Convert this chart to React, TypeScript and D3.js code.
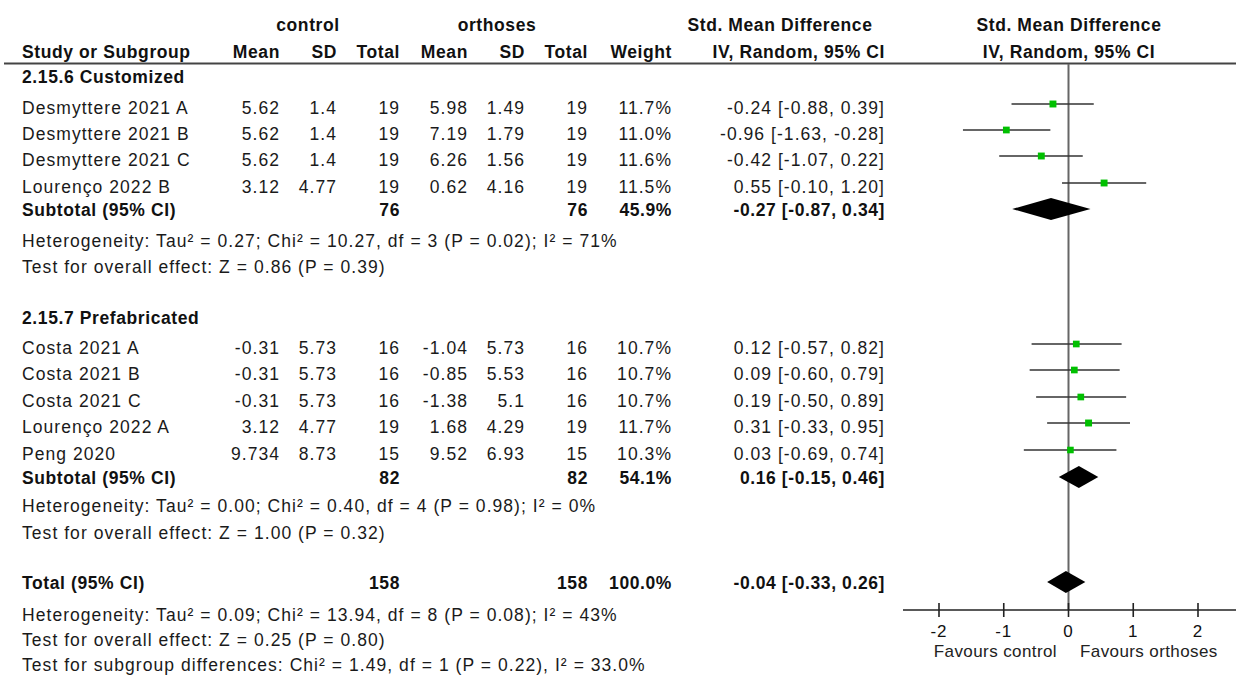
import React from 'react'
import * as d3 from 'd3'

const studyNames = ['Desmyttere 2021 A', 'Desmyttere 2021 B', 'Desmyttere 2021 C', 'Lourenço 2022 B',
  'Costa 2021 A', 'Costa 2021 B', 'Costa 2021 C', 'Lourenço 2022 A', 'Peng 2020']
const ctrlMean = ['5.62', '5.62', '5.62', '3.12', '-0.31', '-0.31', '-0.31', '3.12', '9.734']
const ctrlSD = ['1.4', '1.4', '1.4', '4.77', '5.73', '5.73', '5.73', '4.77', '8.73']
const ctrlN = [19, 19, 19, 19, 16, 16, 16, 19, 15]
const orthMean = ['5.98', '7.19', '6.26', '0.62', '-1.04', '-0.85', '-1.38', '1.68', '9.52']
const orthSD = ['1.49', '1.79', '1.56', '4.16', '5.73', '5.53', '5.1', '4.29', '6.93']
const orthN = [19, 19, 19, 19, 16, 16, 16, 19, 15]
const weights = [11.7, 11.0, 11.6, 11.5, 10.7, 10.7, 10.7, 11.7, 10.3]
const smd = [-0.24, -0.96, -0.42, 0.55, 0.12, 0.09, 0.19, 0.31, 0.03]
const lo = [-0.88, -1.63, -1.07, -0.10, -0.57, -0.60, -0.50, -0.33, -0.69]
const hi = [0.39, -0.28, 0.22, 1.20, 0.82, 0.79, 0.89, 0.95, 0.74]
const studyBaselines = [114, 140, 166, 193, 354, 380, 407, 433, 460]

const pooled = [
  { label: 'Subtotal (95% CI)', n1: 76, n2: 76, w: '45.9%', est: -0.27, lo: -0.87, hi: 0.34, y: 216 },
  { label: 'Subtotal (95% CI)', n1: 82, n2: 82, w: '54.1%', est: 0.16, lo: -0.15, hi: 0.46, y: 484 },
  { label: 'Total (95% CI)', n1: 158, n2: 158, w: '100.0%', est: -0.04, lo: -0.33, hi: 0.26, y: 589 },
]
const groupHeads = [{ t: '2.15.6 Customized', y: 83 }, { t: '2.15.7 Prefabricated', y: 324 }]
const notes = [
  { t: 'Heterogeneity: Tau² = 0.27; Chi² = 10.27, df = 3 (P = 0.02); I² = 71%', y: 247 },
  { t: 'Test for overall effect: Z = 0.86 (P = 0.39)', y: 273 },
  { t: 'Heterogeneity: Tau² = 0.00; Chi² = 0.40, df = 4 (P = 0.98); I² = 0%', y: 512 },
  { t: 'Test for overall effect: Z = 1.00 (P = 0.32)', y: 539 },
  { t: 'Heterogeneity: Tau² = 0.09; Chi² = 13.94, df = 8 (P = 0.08); I² = 43%', y: 621 },
  { t: 'Test for overall effect: Z = 0.25 (P = 0.80)', y: 646 },
  { t: 'Test for subgroup differences: Chi² = 1.49, df = 1 (P = 0.22), I² = 33.0%', y: 671 },
]
const ticks = [-2, -1, 0, 1, 2]

const fmt = (v: number) => v.toFixed(2)
const ciText = (e: number, l: number, h: number) => `${fmt(e)} [${fmt(l)}, ${fmt(h)}]`

export default function App() {
  const x = d3.scaleLinear().domain([-2, 2]).range([939, 1198])
  const axisY = 610
  const font = { fontFamily: 'Liberation Sans, Arial, sans-serif', fontSize: 17.5, letterSpacing: 1.05 }
  const bold = { ...font, fontWeight: 700, letterSpacing: 0.6, fill: '#111' }
  const col = { cMean: 280, cSD: 337, cN: 400, oMean: 468, oSD: 525, oN: 588, w: 672, ci: 885 }
  const diamond = (p: typeof pooled[0]) => {
    const yc = p.y - 7
    return `M${x(p.lo)},${yc} L${x(p.est)},${yc - 11} L${x(p.hi)},${yc} L${x(p.est)},${yc + 11} Z`
  }
  return (
    <svg width={1241} height={675} style={{ position: 'absolute', left: 0, top: 0, background: '#fff' }}>
      <g style={font} fill="#1a1a1a">
        <text x={308} y={31} textAnchor="middle" style={bold}>control</text>
        <text x={497} y={31} textAnchor="middle" style={bold}>orthoses</text>
        <text x={780} y={31} textAnchor="middle" style={bold}>Std. Mean Difference</text>
        <text x={1069} y={31} textAnchor="middle" style={bold}>Std. Mean Difference</text>
        <text x={22} y={58} style={bold}>Study or Subgroup</text>
        {[['Mean', col.cMean], ['SD', col.cSD], ['Total', col.cN], ['Mean', col.oMean], ['SD', col.oSD], ['Total', col.oN], ['Weight', col.w], ['IV, Random, 95% CI', col.ci]].map(([t, cx], i) => (
          <text key={i} x={cx as number} y={58} textAnchor="end" style={bold}>{t}</text>
        ))}
        <text x={1069} y={58} textAnchor="middle" style={bold}>IV, Random, 95% CI</text>
        {groupHeads.map((g, i) => <text key={i} x={22} y={g.y} style={bold}>{g.t}</text>)}
        {studyNames.map((s, i) => (
          <g key={s}>
            <text x={22} y={studyBaselines[i]}>{s}</text>
            <text x={col.cMean} y={studyBaselines[i]} textAnchor="end">{ctrlMean[i]}</text>
            <text x={col.cSD} y={studyBaselines[i]} textAnchor="end">{ctrlSD[i]}</text>
            <text x={col.cN} y={studyBaselines[i]} textAnchor="end">{ctrlN[i]}</text>
            <text x={col.oMean} y={studyBaselines[i]} textAnchor="end">{orthMean[i]}</text>
            <text x={col.oSD} y={studyBaselines[i]} textAnchor="end">{orthSD[i]}</text>
            <text x={col.oN} y={studyBaselines[i]} textAnchor="end">{orthN[i]}</text>
            <text x={col.w} y={studyBaselines[i]} textAnchor="end">{weights[i].toFixed(1)}%</text>
            <text x={col.ci} y={studyBaselines[i]} textAnchor="end">{ciText(smd[i], lo[i], hi[i])}</text>
          </g>
        ))}
        {pooled.map((p, i) => (
          <g key={i} style={bold}>
            <text x={22} y={p.y}>{p.label}</text>
            <text x={col.cN} y={p.y} textAnchor="end">{p.n1}</text>
            <text x={col.oN} y={p.y} textAnchor="end">{p.n2}</text>
            <text x={col.w} y={p.y} textAnchor="end">{p.w}</text>
            <text x={col.ci} y={p.y} textAnchor="end">{ciText(p.est, p.lo, p.hi)}</text>
          </g>
        ))}
        {notes.map((n, i) => <text key={i} x={22} y={n.y}>{n.t}</text>)}
      </g>

      <line x1={4} x2={1236} y1={63.5} y2={63.5} stroke="#444" strokeWidth={2} />
      <line x1={x(0)} x2={x(0)} y1={64} y2={axisY} stroke="#666" strokeWidth={2} />

      {studyNames.map((s, i) => {
        const yc = studyBaselines[i] - 10
        const sz = 4 + weights[i] * 0.25
        return (
          <g key={s}>
            <line x1={x(lo[i])} x2={x(hi[i])} y1={yc} y2={yc} stroke="#333" strokeWidth={1.6} />
            <rect x={x(smd[i]) - sz / 2} y={yc - sz / 2} width={sz} height={sz} fill="#00c000" />
          </g>
        )
      })}
      {pooled.map((p, i) => <path key={i} d={diamond(p)} fill="#000" />)}

      <line x1={903} x2={1236} y1={axisY} y2={axisY} stroke="#222" strokeWidth={1.6} />
      {ticks.map(t => (
        <g key={t}>
          <line x1={x(t)} x2={x(t)} y1={axisY - 7} y2={axisY + 7} stroke="#222" strokeWidth={1.6} />
          <text x={x(t)} y={637} textAnchor="middle" style={{ ...font, fontSize: 17 }} fill="#111">{t}</text>
        </g>
      ))}
      <text x={1057} y={657} textAnchor="end" style={{ ...font, fontSize: 17, letterSpacing: 0.4 }} fill="#222">Favours control</text>
      <text x={1080} y={657} style={{ ...font, fontSize: 17, letterSpacing: 0.4 }} fill="#222">Favours orthoses</text>
    </svg>
  )
}
